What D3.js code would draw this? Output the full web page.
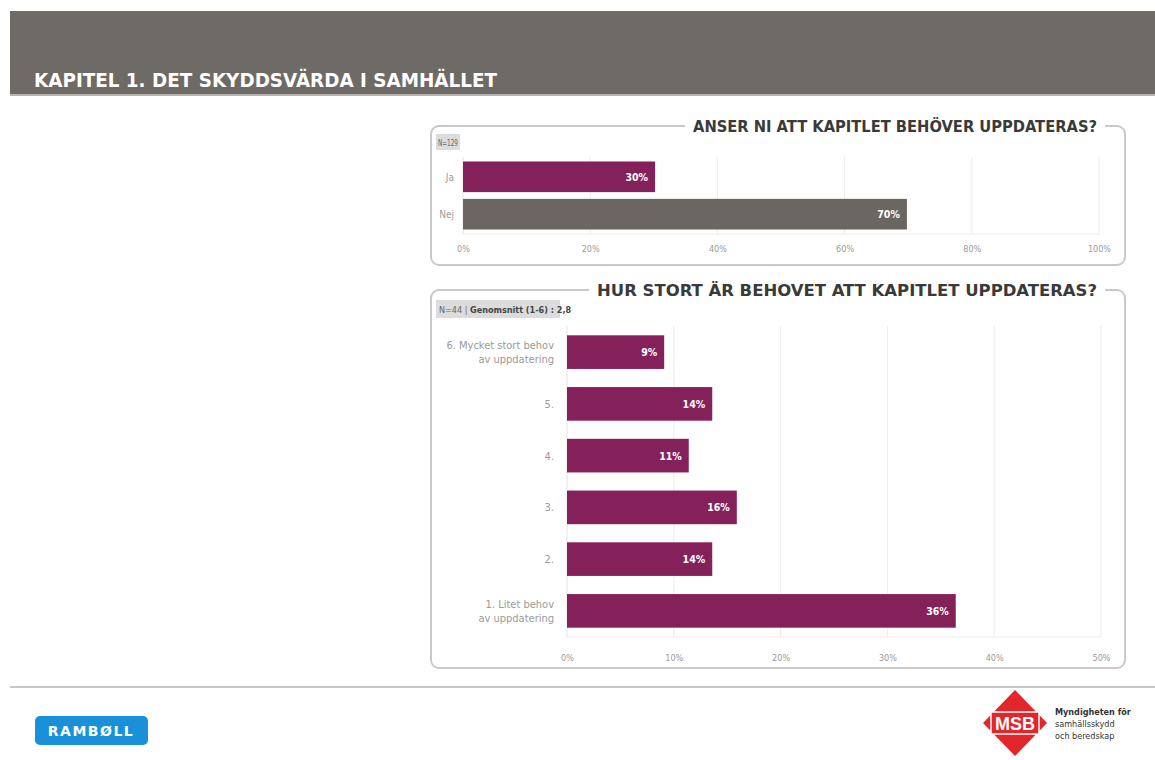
<!DOCTYPE html>
<html><head><meta charset="utf-8">
<script src="https://cdn.jsdelivr.net/npm/d3@7/dist/d3.min.js"></script>
<style>
body{margin:0;background:#fff;}
svg{display:block;}
</style></head>
<body>
<svg id="c" width="1155" height="760"></svg>
<script>
const pageTitle = "KAPITEL  1. DET SKYDDSVÄRDA I SAMHÄLLET";

const q1Title = "ANSER NI ATT KAPITLET BEHÖVER UPPDATERAS?";
const q1Info = "N=129";
const q1Categories = ["Ja", "Nej"];
const q1Values = [30.2, 69.8];
const q1Ticks = [0, 20, 40, 60, 80, 100];

const q2Title = "HUR STORT ÄR BEHOVET ATT KAPITLET UPPDATERAS?";
const q2InfoN = "N=44";
const q2InfoMean = "Genomsnitt  (1-6) : 2,8";
const q2Categories = [["6. Mycket stort behov", "av uppdatering"], ["5."], ["4."], ["3."], ["2."], ["1. Litet behov", "av uppdatering"]];
const q2Values = [9.1, 13.6, 11.4, 15.9, 13.6, 36.4];
const q2Ticks = [0, 10, 20, 30, 40, 50];

const purple = "#85215a", grayBar = "#6a6763";
const svg = d3.select("#c");
const condensed = "'DejaVu Sans Condensed', 'DejaVu Sans', sans-serif";
const small = "'DejaVu Sans Condensed', 'DejaVu Sans', sans-serif";

// header
svg.append("rect").attr("x", 10).attr("y", 11).attr("width", 1145).attr("height", 84).attr("fill", "#6e6a65");
svg.append("rect").attr("x", 10).attr("y", 94).attr("width", 1145).attr("height", 2).attr("fill", "#b9b6b2");
svg.append("text").attr("x", 34).attr("y", 87).text(pageTitle)
  .attr("fill", "#fff").attr("font-family", condensed).attr("font-weight", "bold").attr("font-size", 19)
  .attr("textLength", 463).attr("lengthAdjust", "spacingAndGlyphs");

// footer separator
svg.append("line").attr("x1", 10).attr("x2", 1155).attr("y1", 687).attr("y2", 687).attr("stroke", "#c8c8c8").attr("stroke-width", 2);

function panel(x, y, w, h, title, titleX, titleW) {
  const g = svg.append("g");
  const r = 8;
  const p = d3.path();
  p.moveTo(titleX - 8, y);
  p.lineTo(x + r, y); p.arcTo(x, y, x, y + r, r);
  p.lineTo(x, y + h - r); p.arcTo(x, y + h, x + r, y + h, r);
  p.lineTo(x + w - r, y + h); p.arcTo(x + w, y + h, x + w, y + h - r, r);
  p.lineTo(x + w, y + r); p.arcTo(x + w, y, x + w - r, y, r);
  p.lineTo(titleX + titleW + 8, y);
  g.append("path").attr("d", p.toString()).attr("fill", "none").attr("stroke", "#c9c9c9").attr("stroke-width", 2);
  g.append("text").attr("x", titleX).attr("y", y + 6).text(title)
    .attr("fill", "#3a3a3a").attr("font-family", condensed).attr("font-weight", "bold").attr("font-size", 16)
    .attr("textLength", titleW).attr("lengthAdjust", "spacingAndGlyphs");
}

panel(431, 126, 694, 139, q1Title, 693, 404);
panel(431, 290, 694, 378, q2Title, 597, 500);

// info boxes
svg.append("rect").attr("x", 436).attr("y", 134).attr("width", 24).attr("height", 16).attr("fill", "#dcdcdc");
svg.append("text").attr("x", 448).attr("y", 146).attr("text-anchor", "middle").text(q1Info)
  .attr("font-family", small).attr("font-size", 8).attr("fill", "#666").attr("textLength", 20).attr("lengthAdjust", "spacingAndGlyphs");

svg.append("rect").attr("x", 436).attr("y", 300).attr("width", 124).attr("height", 18).attr("fill", "#dcdcdc");
const it = svg.append("text").attr("x", 439).attr("y", 313).attr("font-family", small).attr("font-size", 9).attr("fill", "#444");
it.append("tspan").text(q2InfoN + " | ").attr("fill", "#666");
it.append("tspan").text(q2InfoMean).attr("font-weight", "bold").attr("fill", "#444");

function barChart(cfg) {
  const x = d3.scaleLinear().domain([cfg.ticks[0], cfg.ticks[cfg.ticks.length - 1]]).range([cfg.x0, cfg.x1]);
  const y = d3.scaleBand().domain(d3.range(cfg.values.length)).range([cfg.y0, cfg.y1]).paddingInner(cfg.padIn).paddingOuter(cfg.padOut);
  const g = svg.append("g");
  g.selectAll("line.grid").data(cfg.ticks.slice(1)).join("line")
    .attr("x1", d => x(d)).attr("x2", d => x(d)).attr("y1", cfg.y0).attr("y2", cfg.y1)
    .attr("stroke", "#ececec").attr("stroke-width", 1);
  g.append("line").attr("x1", x(0)).attr("x2", x(0)).attr("y1", cfg.y0).attr("y2", cfg.y1).attr("stroke", "#e3e3e3");
  g.append("line").attr("x1", x(0)).attr("x2", cfg.x1).attr("y1", cfg.y1).attr("y2", cfg.y1).attr("stroke", "#ececec");
  const axis = d3.axisBottom(x).tickValues(cfg.ticks).tickFormat(d => d + "%").tickSize(0).tickPadding(cfg.tickPad);
  const ag = g.append("g").attr("transform", `translate(0,${cfg.y1})`).call(axis);
  ag.select(".domain").remove();
  ag.selectAll("text").attr("font-family", small).attr("font-size", 9).attr("fill", "#9a9a9a");
  g.selectAll("rect.bar").data(cfg.values).join("rect")
    .attr("x", x(0)).attr("y", (d, i) => y(i)).attr("width", d => x(d) - x(0)).attr("height", y.bandwidth())
    .attr("fill", (d, i) => cfg.colors[i]);
  g.selectAll("text.val").data(cfg.values).join("text")
    .attr("x", d => x(d) - 7).attr("y", (d, i) => y(i) + y.bandwidth() / 2 + 4)
    .attr("text-anchor", "end").attr("fill", "#fff").attr("font-family", small).attr("font-weight", "bold").attr("font-size", 10.5)
    .text(d => Math.round(d) + "%");
  cfg.categories.forEach((c, i) => {
    const lines = Array.isArray(c) ? c : [c];
    const t = g.append("text").attr("text-anchor", "end").attr("font-family", small).attr("font-size", cfg.labelSize).attr("fill", "#9a9a9a");
    const cy = y(i) + y.bandwidth() / 2;
    lines.forEach((l, k) => {
      t.append("tspan").attr("x", x(0) - cfg.labelGap).attr("y", cy + 4 + (k - (lines.length - 1) / 2) * 14).text(l);
    });
  });
}

barChart({values: q1Values, categories: q1Categories, ticks: q1Ticks, colors: [purple, grayBar],
  x0: 463, x1: 1099, y0: 157, y1: 234, padIn: 0.18, padOut: 0.12, tickPad: 12, labelSize: 10, labelGap: 9});
barChart({values: q2Values, categories: q2Categories, ticks: q2Ticks, colors: q2Values.map(() => purple),
  x0: 567, x1: 1101, y0: 326, y1: 637, padIn: 0.35, padOut: 0.18, tickPad: 18, labelSize: 11, labelGap: 13});

// Ramboll logo
svg.append("rect").attr("x", 35).attr("y", 716).attr("width", 113).attr("height", 29).attr("rx", 5).attr("fill", "#1a90d8");
svg.append("text").attr("x", 91).attr("y", 736).attr("text-anchor", "middle").text("RAMBØLL")
  .attr("fill", "#fff").attr("font-family", "Verdana, 'DejaVu Sans', sans-serif").attr("font-weight", "bold").attr("font-size", 14)
  .attr("letter-spacing", 1.5);

// MSB logo
const cx = 1015, cy = 723;
svg.append("path").attr("d", `M${cx},${cy - 33}L${cx + 32},${cy}L${cx},${cy + 33}L${cx - 32},${cy}Z`).attr("fill", "#e3262b");
svg.append("rect").attr("x", cx - 24).attr("y", cy - 11).attr("width", 48).attr("height", 22).attr("fill", "#e3262b").attr("stroke", "#fff").attr("stroke-width", 1.5);
svg.append("text").attr("x", cx).attr("y", cy + 7).attr("text-anchor", "middle").text("MSB")
  .attr("fill", "#fff").attr("font-family", "'Liberation Sans', Arial, sans-serif").attr("font-weight", "bold").attr("font-size", 18);
const mt = svg.append("text").attr("font-family", condensed).attr("font-size", 9).attr("fill", "#333");
["Myndigheten för", "samhällsskydd", "och beredskap"].forEach((l, k) => {
  mt.append("tspan").attr("x", 1055).attr("y", 715 + k * 12).text(l).attr("font-weight", k === 0 ? "bold" : "normal");
});
</script>
</body></html>
